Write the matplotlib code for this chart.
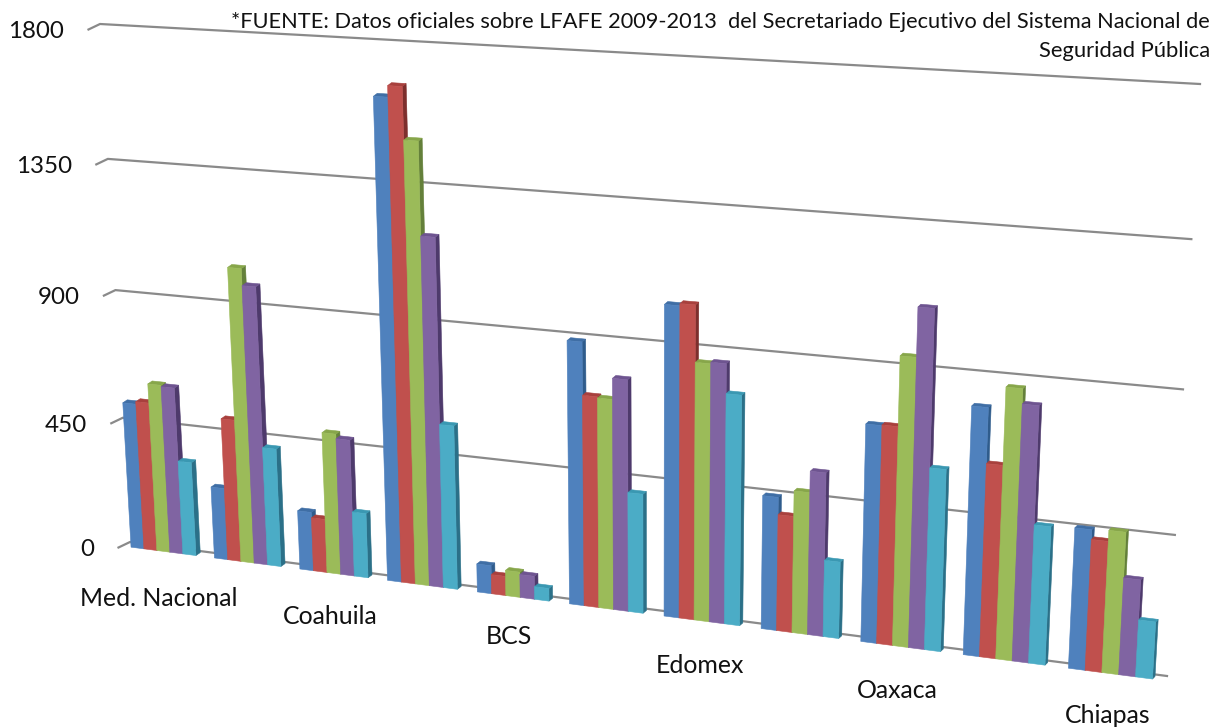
#!/usr/bin/env python3
import numpy as np
import matplotlib
matplotlib.use("Agg")
import matplotlib.pyplot as plt
from matplotlib.patches import Polygon

OUT_FILE = "out.png"
WIDTH, HEIGHT = 1217, 727

# Values per state, one list per series
serie_1 = [523, 256, 208, 1636, 98, 890, 1036, 445, 713, 803, 453]
serie_2 = [532, 504, 189, 1673, 67, 714, 1043, 388, 715, 626, 422]
serie_3 = [600, 1033, 494, 1501, 88, 710, 858, 472, 939, 872, 457]
serie_4 = [595, 975, 478, 1192, 80, 780, 863, 542, 1096, 824, 312]
serie_5 = [335, 418, 227, 566, 44, 405, 766, 255, 594, 448, 184]
series = [serie_1, serie_2, serie_3, serie_4, serie_5]

y_ticks = [0, 450, 900, 1350, 1800]
y_labels = ["0", "450", "900", "1350", "1800"]
categories = ["Med. Nacional", "Coahuila", "BCS", "Edomex", "Oaxaca", "Chiapas"]
note_lines = [
    "*FUENTE: Datos oficiales sobre LFAFE 2009-2013  del Secretariado Ejecutivo del Sistema Nacional de",
    "Seguridad Pública",
]

# Office palette: front, side and top shade of each series
front_colors = ["#4F81BD", "#C0504D", "#9BBB59", "#8064A2", "#4BACC6"]
side_colors = ["#2F5C8C", "#7D2F2D", "#64803A", "#4E3A6C", "#2B7088"]
top_colors = ["#3F6EA5", "#A8403D", "#87A64A", "#6E5490", "#3A98B2"]
GRID_COLOR = "#8A8A8A"
TEXT_COLOR = "#111111"

U_MIN, U_MAX = -0.11, 10.89
V_MAX = 1800.0
GROUP_WIDTH = 0.78


def make_plane(bl, br, tl, tr):
    """Homography from (u, v) on the chart to figure pixels, given four corners"""
    src = [(U_MIN, 0.0), (U_MAX, 0.0), (U_MIN, V_MAX), (U_MAX, V_MAX)]
    dst = [bl, br, tl, tr]
    a, b = [], []
    for (u, v), (x, y) in zip(src, dst):
        s, t = (u - U_MIN) / (U_MAX - U_MIN), v / V_MAX
        a.append([s, t, 1, 0, 0, 0, -s * x, -t * x])
        a.append([0, 0, 0, s, t, 1, -s * y, -t * y])
        b += [x, y]
    h = np.linalg.solve(np.array(a), np.array(b))

    def project(u, v):
        s, t = (u - U_MIN) / (U_MAX - U_MIN), v / V_MAX
        w = h[6] * s + h[7] * t + 1
        return (h[0] * s + h[1] * t + h[2]) / w, (h[3] * s + h[4] * t + h[5]) / w

    return project


front = make_plane((122, 546), (1164.5, 680.6), (92, 30), (1198, 89))
back = make_plane((126.5, 543), (1167, 678), (96.5, 27), (1200.5, 86.2))
wall = make_plane((130, 542), (1167, 676), (100, 24), (1200, 84))

fig = plt.figure(figsize=(WIDTH / 100, HEIGHT / 100), dpi=100)
ax = fig.add_axes([0, 0, 1, 1])
ax.set_xlim(0, WIDTH)
ax.set_ylim(HEIGHT, 0)
ax.axis("off")
plt.rcParams["font.family"] = ["Lato", "DejaVu Sans"]

# Gridlines on the rear wall, each with a short stub on the side wall
for tick, label in zip(y_ticks, y_labels):
    x0, y0 = wall(U_MIN, tick)
    x1, y1 = wall(U_MAX, tick)
    ax.plot([x0 - 11.5, x0, x1], [y0 + 5.5, y0, y1], color=GRID_COLOR, lw=1.6,
            solid_joinstyle="round", zorder=1)
    ax.text(x0 - 36, y0 + 7.5, label, ha="right", va="center", fontsize=17.4, color=TEXT_COLOR)


def face(points, color, z):
    ax.add_patch(Polygon(points, closed=True, facecolor=color, edgecolor=color, lw=0.4, zorder=z))


# Bars, left to right so each front face covers its neighbour's side
bar_w = GROUP_WIDTH / len(series)
z = 2
for i in range(len(serie_1)):
    for s, values in enumerate(series):
        val = values[i]
        u0, u1 = i + s * bar_w, i + (s + 1) * bar_w
        face([back(u1, 0), back(u1, val), front(u1, val), front(u1, 0)], side_colors[s], z)
        face([front(u0, val), back(u0, val), back(u1, val), front(u1, val)], top_colors[s], z)
        face([front(u0, 0), front(u0, val), front(u1, val), front(u1, 0)], front_colors[s], z + 0.5)
        z += 1

# Only every other state gets its name under the bars
label_xy = [(159, 598), (330, 616), (509, 637), (700, 665.5), (897, 690), (1108, 715.5)]
for name, (x, y) in zip(categories, label_xy):
    ax.text(x, y, name, ha="center", va="center", fontsize=17.9, color=TEXT_COLOR)

ax.text(1210, 22.5, note_lines[0], ha="right", va="center", fontsize=15.65, color=TEXT_COLOR)
ax.text(1210, 51, note_lines[1], ha="right", va="center", fontsize=15.8, color=TEXT_COLOR)

fig.savefig(OUT_FILE, dpi=100)
plt.close(fig)
